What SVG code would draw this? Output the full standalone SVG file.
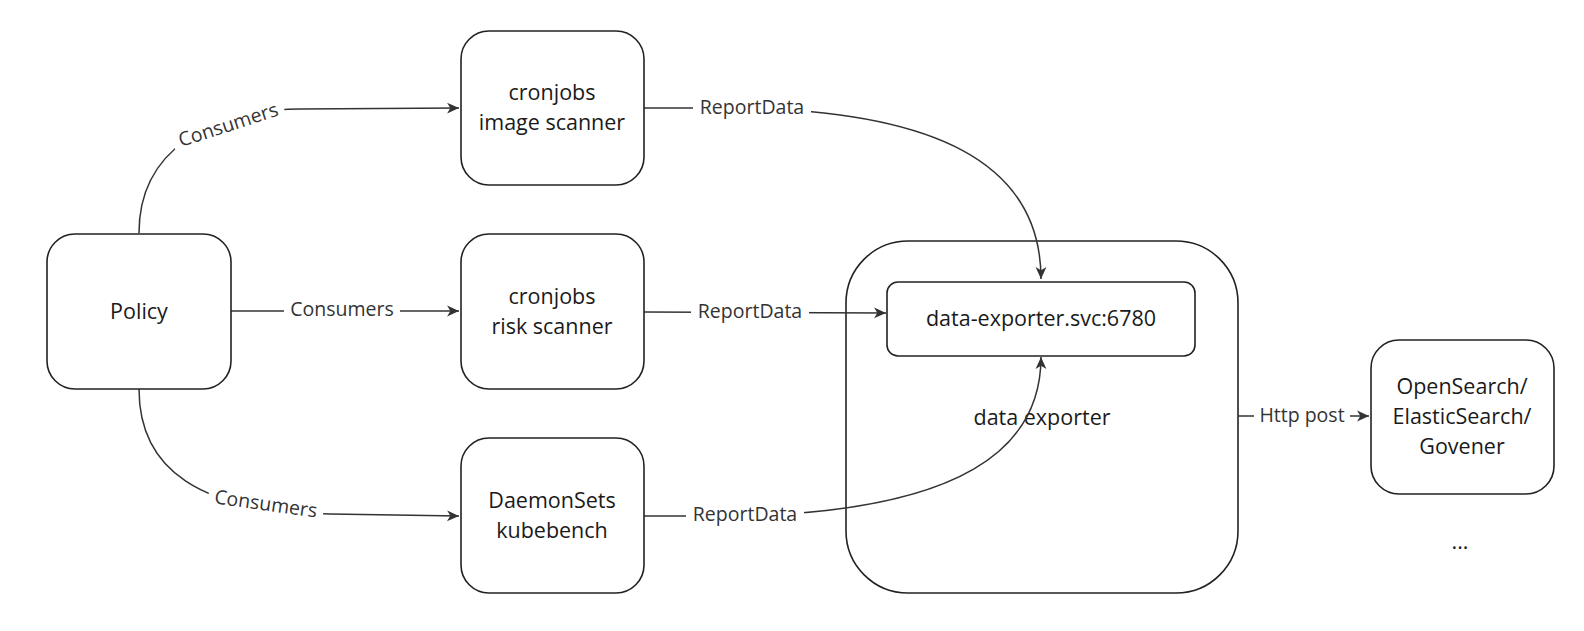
<svg xmlns="http://www.w3.org/2000/svg" width="1584" height="631" viewBox="0 0 1584 631">
<defs>
<style>
.box{fill:#fff;stroke:#222;stroke-width:1.6}
.t{font-family:"Open Sans","Noto Sans",sans-serif;font-size:21.5px;fill:#1a1a1a;text-anchor:middle;dominant-baseline:central}
.l{font-family:"Open Sans","Noto Sans",sans-serif;font-size:19.5px;fill:#333;text-anchor:middle;dominant-baseline:central}
.c{fill:none;stroke:#333;stroke-width:1.5}
.bg{fill:#fff}
</style>
<marker id="ah" viewBox="0 0 12 12" refX="11" refY="6" markerWidth="13" markerHeight="13" markerUnits="userSpaceOnUse" orient="auto">
<path d="M0,1 L11,6 L0,11 L3,6 Z" fill="#333"/>
</marker>
</defs>
<rect width="1584" height="631" fill="#fff"/>

<g id="exporter">
<rect class="box" x="846" y="241" width="392" height="352" rx="62" ry="62"/>
<text class="t" x="1042" y="416">data exporter</text>
</g>

<g id="connectors">
<path class="c" d="M139,233 C139,150 210,110 300,109 L459,108" marker-end="url(#ah)"/>
<path class="c" d="M231,311 L459,311" marker-end="url(#ah)"/>
<path class="c" d="M139,389 C139,470 200,512 330,514 L459,516" marker-end="url(#ah)"/>
<path class="c" d="M644,108 L745,108 C930,112 1041,160 1041,279" marker-end="url(#ah)"/>
<path class="c" d="M644,312 L886,313" marker-end="url(#ah)"/>
<path class="c" d="M644,516 L745,516 C960,510 1041,450 1041,357" marker-end="url(#ah)"/>
<path class="c" d="M1238,416 L1369,416" marker-end="url(#ah)"/>
<g transform="translate(228,124) rotate(-18)"><rect class="bg" x="-58" y="-12" width="116" height="24"/><text class="l" x="0" y="0">Consumers</text></g>
<rect class="bg" x="284" y="298" width="116" height="24"/><text class="l" x="342" y="308">Consumers</text>
<g transform="translate(266,503) rotate(8)"><rect class="bg" x="-58" y="-12" width="116" height="24"/><text class="l" x="0" y="0">Consumers</text></g>
<rect class="bg" x="693" y="95" width="118" height="24"/><text class="l" x="752" y="106">ReportData</text>
<rect class="bg" x="691" y="299" width="118" height="24"/><text class="l" x="750" y="310">ReportData</text>
<rect class="bg" x="686" y="502" width="118" height="24"/><text class="l" x="745" y="513">ReportData</text>
<rect class="bg" x="1254" y="403" width="96" height="24"/><text class="l" x="1302" y="414">Http post</text>
</g>

<g id="policy">
<rect class="box" x="47" y="234" width="184" height="155" rx="28" ry="28"/>
<text class="t" x="139" y="310">Policy</text>
</g>
<g id="image-scanner">
<rect class="box" x="461" y="31" width="183" height="154" rx="28" ry="28"/>
<text class="t" x="552" y="91">cronjobs</text>
<text class="t" x="552" y="121">image scanner</text>
</g>
<g id="risk-scanner">
<rect class="box" x="461" y="234" width="183" height="155" rx="28" ry="28"/>
<text class="t" x="552" y="295">cronjobs</text>
<text class="t" x="552" y="325">risk scanner</text>
</g>
<g id="kubebench">
<rect class="box" x="461" y="438" width="183" height="155" rx="28" ry="28"/>
<text class="t" x="552" y="499">DaemonSets</text>
<text class="t" x="552" y="529">kubebench</text>
</g>
<g id="svc">
<rect class="box" x="887" y="282" width="308" height="74" rx="11" ry="11"/>
<text class="t" x="1041" y="317">data-exporter.svc:6780</text>
</g>
<g id="opensearch">
<rect class="box" x="1371" y="340" width="183" height="154" rx="28" ry="28"/>
<text class="t" x="1462" y="385">OpenSearch/</text>
<text class="t" x="1462" y="415">ElasticSearch/</text>
<text class="t" x="1462" y="445">Govener</text>
</g>
<text class="t" x="1460" y="540">...</text>
</svg>
